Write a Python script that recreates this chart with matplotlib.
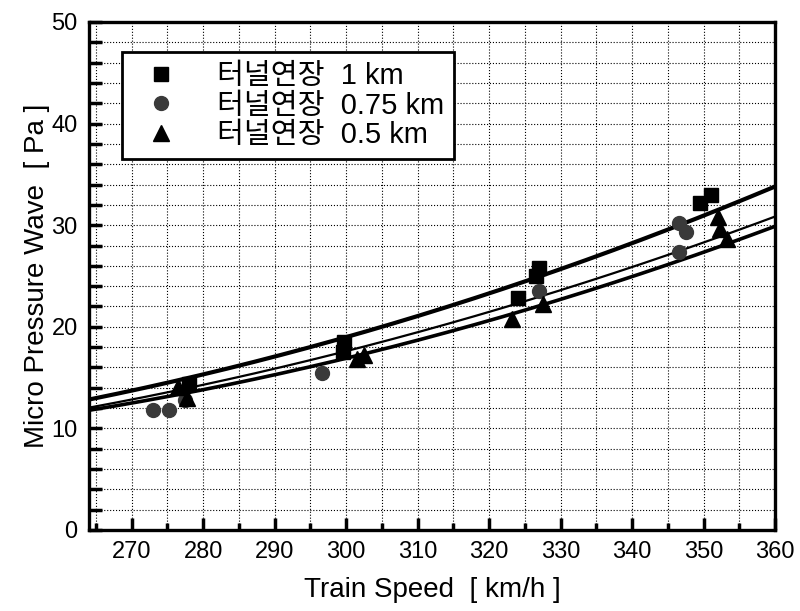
import matplotlib
matplotlib.use("Agg")
import matplotlib.pyplot as plt
from matplotlib.ticker import MultipleLocator
from matplotlib.lines import Line2D
import numpy as np

plt.rcParams['font.family'] = ['Liberation Sans', 'Noto Sans CJK KR', 'DejaVu Sans']

# measured points, tunnel extension 1 km (squares)
sq_x = [278.0, 299.5, 299.7, 324.0, 326.5, 327.0, 349.5, 351.0]
sq_y = [14.4, 17.5, 18.5, 22.8, 25.0, 25.8, 32.2, 33.0]
# 0.75 km (circles)
ci_x = [273.0, 275.2, 277.5, 296.6, 327.0, 346.5, 347.5, 346.6]
ci_y = [11.8, 11.8, 12.8, 15.5, 23.5, 30.2, 29.3, 27.4]
# 0.5 km (triangles)
tr_x = [276.5, 277.8, 301.5, 302.5, 323.2, 327.5, 352.0, 352.3, 353.2]
tr_y = [14.1, 13.0, 16.8, 17.2, 20.8, 22.2, 30.8, 29.6, 28.6]

# trend curves
fit_x = [264, 280, 300, 319, 327, 350, 360]
fit_1km = [12.9, 15.3, 18.8, 23.1, 25.0, 31.2, 33.6]
fit_075 = [12.1, 14.3, 17.3, 21.5, 23.0, 28.3, 30.8]
fit_05 = [11.8, 13.9, 16.6, 20.5, 22.2, 27.4, 29.8]

labels = ["터널연장  1 km", "터널연장  0.75 km", "터널연장  0.5 km"]

fig = plt.figure(figsize=(8.0, 6.11), dpi=100)
ax = fig.add_axes([0.111, 0.1326, 0.858, 0.8314])

xs = np.linspace(264, 360, 200)


def smooth(y):
    return np.polyval(np.polyfit(fit_x, y, 2), xs)


ax.plot(xs, smooth(fit_1km), color="black", lw=3.0, zorder=3)
ax.plot(xs, smooth(fit_075), color="black", lw=1.6, zorder=3)
ax.plot(xs, smooth(fit_05), color="black", lw=2.6, zorder=3)

ax.plot(sq_x, sq_y, "s", color="black", ms=10, zorder=4)
ax.plot(ci_x, ci_y, "o", color="#3a3a3a", ms=10, zorder=4)
ax.plot(tr_x, tr_y, "^", color="black", ms=11, zorder=4)

ax.set_xlim(264, 360)
ax.set_ylim(0, 50)
ax.xaxis.set_major_locator(MultipleLocator(10))
ax.xaxis.set_minor_locator(MultipleLocator(5))
ax.yaxis.set_major_locator(MultipleLocator(10))
ax.yaxis.set_minor_locator(MultipleLocator(2))
ax.grid(which="both", color="black", ls=":", lw=0.8, zorder=0)
ax.tick_params(which="major", direction="in", length=9, width=2.5, labelsize=17,
               pad=8, colors="black")
ax.tick_params(which="minor", direction="in", length=5, width=2.5)
ax.tick_params(axis="y", which="minor", length=9)
for sp in ax.spines.values():
    sp.set_linewidth(2.4)

ax.set_xlabel("Train Speed  [ km/h ]", fontsize=20, labelpad=10)
ax.set_ylabel("Micro Pressure Wave  [ Pa ]", fontsize=20, labelpad=1)

handles = [Line2D([], [], ls="none", marker="s", color="black", ms=10),
           Line2D([], [], ls="none", marker="o", color="#3a3a3a", ms=10),
           Line2D([], [], ls="none", marker="^", color="black", ms=11)]
leg = ax.legend(handles, labels, loc="upper left", bbox_to_anchor=(0.048, 0.941),
                fancybox=False, framealpha=1, edgecolor="black", borderaxespad=0,
                handletextpad=0.9, labelspacing=0.05, borderpad=0.35,
                prop={"family": ["Liberation Sans", "Noto Sans CJK KR"], "size": 21})
leg.get_frame().set_linewidth(2.0)
leg.set_zorder(6)

fig.savefig("out.png", facecolor="white")
